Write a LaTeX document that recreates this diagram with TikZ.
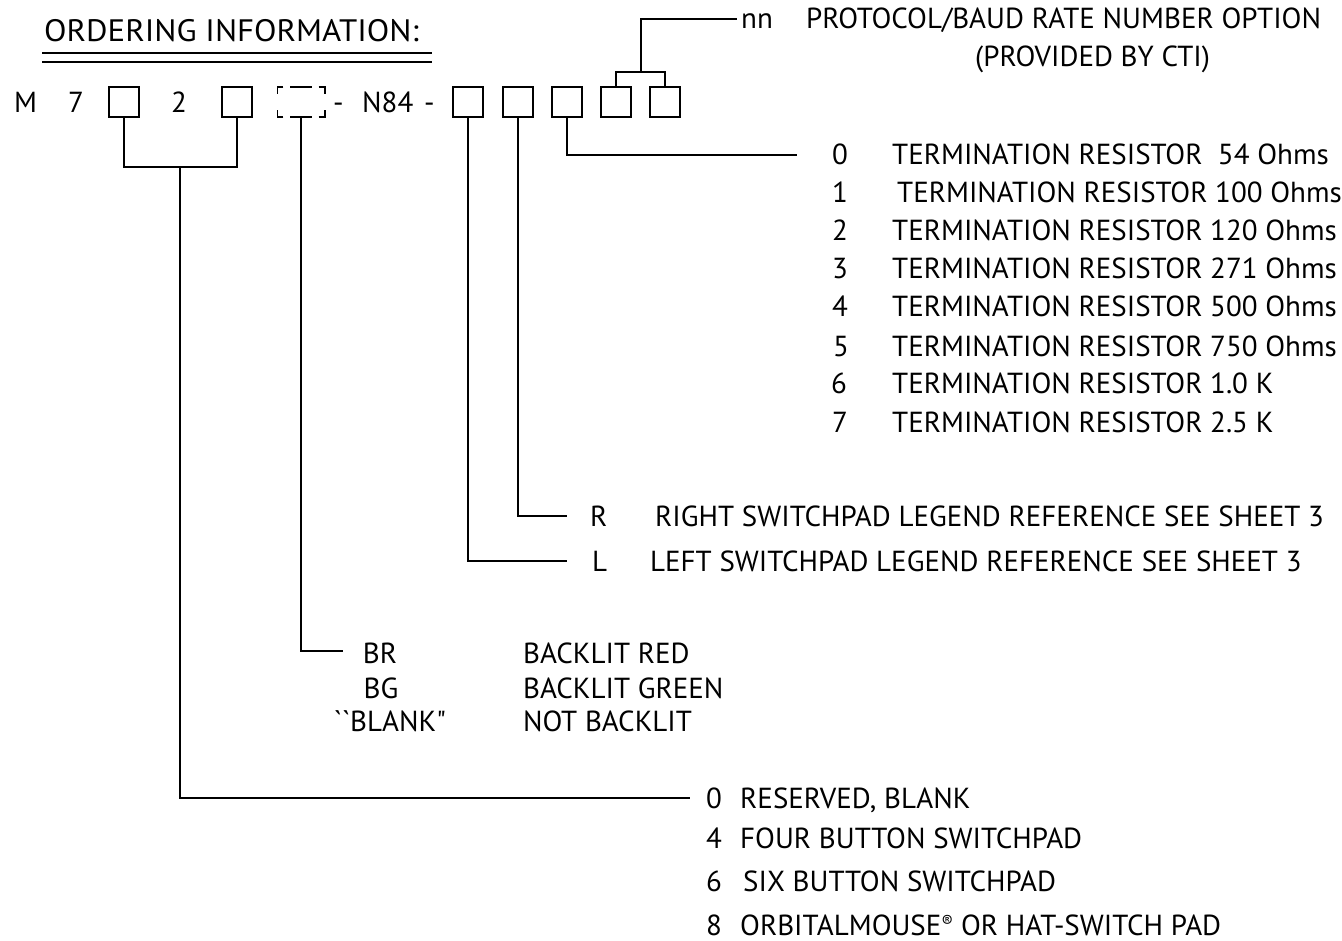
\documentclass[tikz,border=0pt]{standalone}
\usepackage{fontspec}
\newfontfamily\diagfont{PT Sans}
\tikzset{
  slot/.style={draw, line width=1.6pt, minimum size=30pt, inner sep=0pt},
  lead/.style={line width=1.6pt},
  txt/.style={anchor=base west, inner sep=0pt, font=\diagfont\fontsize{29}{34}\selectfont},
  num/.style={anchor=base, inner sep=0pt, font=\diagfont\fontsize{29}{34}\selectfont}
}
\begin{document}
\begin{tikzpicture}[x=1pt, y=-1pt]
    \useasboundingbox (0,0) rectangle (1342,941);

    % title
    \node[txt, font=\diagfont\fontsize{31}{36}\selectfont, xscale=1.06] (title) at (44,42) {ORDERING INFORMATION:};
    \draw[line width=2.2pt] (42,53) -- (432,53);
    \draw[line width=1.2pt] (42,62) -- (432,62);

    % part number
    \node[txt] (m) at (14,113) {M};
    \node[txt] (seven) at (68,113) {7};
    \node[slot] (b1) at (124,102) {};
    \node[txt] (two) at (171,113) {2};
    \node[slot] (b2) at (237,102) {};
    \node[minimum width=47pt, minimum height=30pt, inner sep=0pt] (bl) at (301,102) {};
    \node[txt] (d1) at (333,113) {-};
    \node[txt] (n84) at (362,113) {N84};
    \node[txt] (d2) at (424,113) {-};
    \node[slot] (b3) at (468,102) {};
    \node[slot] (b4) at (518,102) {};
    \node[slot] (b5) at (567,102) {};
    \node[slot] (b6) at (616,102) {};
    \node[slot] (b7) at (665,102) {};

    % dashed box for backlight
    \draw[lead] ([xshift=6pt]bl.north west) -- (bl.north west) -- ([yshift=-7pt]bl.north west);
    \draw[lead] ([xshift=-6pt]bl.north east) -- (bl.north east) -- ([yshift=-7pt]bl.north east);
    \draw[lead] ([xshift=6pt]bl.south west) -- (bl.south west) -- ([yshift=7pt]bl.south west);
    \draw[lead] ([xshift=-6pt]bl.south east) -- (bl.south east) -- ([yshift=7pt]bl.south east);
    \draw[lead] ([xshift=-11pt]bl.north) -- ([xshift=11pt]bl.north);
    \draw[lead] ([xshift=-11pt]bl.south) -- ([xshift=11pt]bl.south);

    % protocol / baud rate
    \coordinate (pj) at (641,72);
    \coordinate (pe) at (737,19);
    \draw[lead] (b6.north) |- (pj) -| (b7.north);
    \draw[lead] (pj) |- (pe);
    \node[txt] (nn) at (741,29) {nn};
    \node[txt] (proto) at (806,29) {PROTOCOL/BAUD RATE NUMBER OPTION};
    \node[txt] (cti) at (975,67) {(PROVIDED BY CTI)};

    % termination resistor
    \coordinate (te) at (797,155);
    \draw[lead] (b5.south) |- (te);
    \node[num] (r0) at (840,165) {0};
    \node[txt] (t0) at (892,165) {TERMINATION RESISTOR\ \ 54 Ohms};
    \node[num] (r1) at (840,203) {1};
    \node[txt] (t1) at (897,203) {TERMINATION RESISTOR 100 Ohms};
    \node[num] (r2) at (840,241) {2};
    \node[txt] (t2) at (892,241) {TERMINATION RESISTOR 120 Ohms};
    \node[num] (r3) at (840,279) {3};
    \node[txt] (t3) at (892,279) {TERMINATION RESISTOR 271 Ohms};
    \node[num] (r4) at (840,317) {4};
    \node[txt] (t4) at (892,317) {TERMINATION RESISTOR 500 Ohms};
    \node[num] (r5) at (841,356) {5};
    \node[txt] (t5) at (892,356) {TERMINATION RESISTOR 750 Ohms};
    \node[num] (r6) at (839,394) {6};
    \node[txt] (t6) at (892,394) {TERMINATION RESISTOR 1.0 K};
    \node[num] (r7) at (840,432) {7};
    \node[txt] (t7) at (892,432) {TERMINATION RESISTOR 2.5 K};

    % switchpad legends
    \coordinate (re) at (567,516);
    \coordinate (le) at (567,561);
    \draw[lead] (b4.south) |- (re);
    \draw[lead] (b3.south) |- (le);
    \node[txt] (rr) at (590,526) {R};
    \node[txt] (rt) at (655,526) {RIGHT SWITCHPAD LEGEND REFERENCE SEE SHEET 3};
    \node[txt] (ll) at (592,571) {L};
    \node[txt] (lt) at (650,571) {LEFT SWITCHPAD LEGEND REFERENCE SEE SHEET 3};

    % backlight
    \coordinate (be) at (343,651);
    \draw[lead] (bl.south) |- (be);
    \node[num] (br) at (380,663) {BR};
    \node[num] (bg) at (381,698) {BG};
    \node[num] (bb) at (390,731) {``BLANK"};
    \node[txt] (brt) at (523,663) {BACKLIT RED};
    \node[txt] (bgt) at (523,698) {BACKLIT GREEN};
    \node[txt] (bbt) at (523,731) {NOT BACKLIT};

    % switchpad type
    \coordinate (sj) at (180,167);
    \coordinate (se) at (690,798);
    \draw[lead] (b1.south) |- (sj) -| (b2.south);
    \draw[lead] (sj) |- (se);
    \node[txt] (s0) at (706,808) {0};
    \node[txt] (s0t) at (740,808) {RESERVED, BLANK};
    \node[txt] (s4) at (706,848) {4};
    \node[txt] (s4t) at (740,848) {FOUR BUTTON SWITCHPAD};
    \node[txt] (s6) at (706,891) {6};
    \node[txt] (s6t) at (743,891) {SIX BUTTON SWITCHPAD};
    \node[txt] (s8) at (706,935) {8};
    \node[txt] (s8t) at (740,935) {ORBITALMOUSE\raisebox{0.55ex}{\fontsize{17}{17}\selectfont ®} OR HAT-SWITCH PAD};
\end{tikzpicture}
\end{document}
